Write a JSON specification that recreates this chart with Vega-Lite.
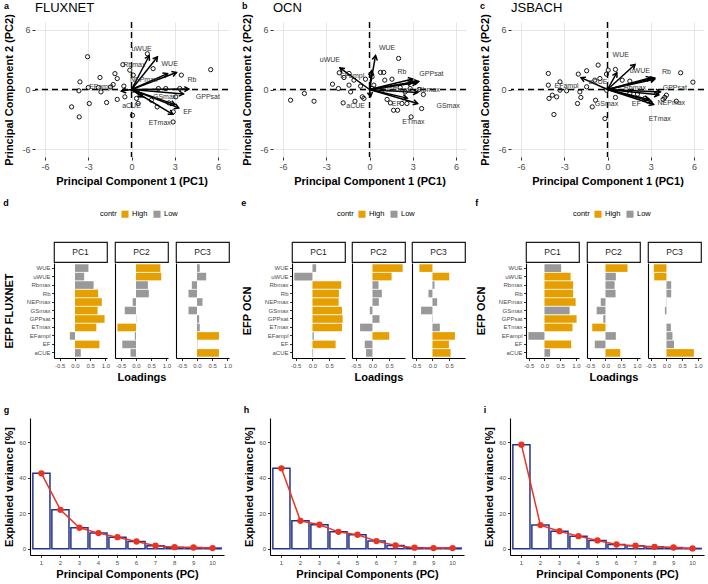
{
 "$schema": "https://vega.github.io/schema/vega-lite/v6.json",
 "padding": {"left": 1, "top": 1, "right": 0, "bottom": 0},
 "config": {
  "font": "Liberation Sans",
  "view": {"stroke": null},
  "axis": {"labelFlush": false, "labelOverlap": false, "labelColor": "#4d4d4d", "titleColor": "#000000", "titleFontWeight": "bold", "tickColor": "#333333", "domainColor": "#000000", "grid": false},
  "legend": {"titleColor": "#000000", "labelColor": "#000000"},
  "title": {"color": "#000000"}
 },
 "datasets": {
  "sitesF": [{"x":-3.05,"y":3.3},{"x":5.5,"y":2.0},{"x":-3.58,"y":0.77},{"x":-3.65,"y":-0.13},{"x":-3.0,"y":0.2},{"x":-4.16,"y":-1.75},{"x":-3.63,"y":-2.76},{"x":-2.93,"y":-1.41},{"x":-2.19,"y":1.21},{"x":-2.12,"y":-0.24},{"x":-1.73,"y":-1.31},{"x":-1.27,"y":0.5},{"x":-1.15,"y":1.6},{"x":-0.99,"y":1.1},{"x":-0.99,"y":-1.0},{"x":-0.6,"y":2.5},{"x":-0.12,"y":1.95},{"x":0.12,"y":1.45},{"x":-0.53,"y":0.34},{"x":-0.46,"y":-0.74},{"x":0.07,"y":-2.6},{"x":0.35,"y":-0.9},{"x":0.46,"y":-1.4},{"x":1.1,"y":3.6},{"x":1.5,"y":2.1},{"x":1.87,"y":0.1},{"x":2.38,"y":0.1},{"x":1.38,"y":-1.08},{"x":1.78,"y":-1.75},{"x":3.46,"y":1.45},{"x":3.35,"y":0.1},{"x":3.07,"y":-0.74},{"x":2.9,"y":-2.25},{"x":2.89,"y":-3.27},{"x":0.1,"y":-0.07},{"x":-1.45,"y":0.25},{"x":-2.3,"y":0.2},{"x":0.6,"y":-0.55},{"x":2.6,"y":-1.35}],
  "sitesO": [{"x":-5.48,"y":-1.08},{"x":-4.52,"y":-0.4},{"x":-3.85,"y":-1.18},{"x":-2.57,"y":0.54},{"x":-2.16,"y":0.1},{"x":-2.1,"y":1.68},{"x":-1.77,"y":1.21},{"x":-1.83,"y":-1.35},{"x":-1.42,"y":1.62},{"x":-1.08,"y":0.94},{"x":-1.42,"y":0.44},{"x":-1.31,"y":-0.24},{"x":-1.01,"y":-1.18},{"x":-0.62,"y":0.34},{"x":-0.5,"y":-0.74},{"x":-0.39,"y":-0.9},{"x":-0.28,"y":1.04},{"x":0.18,"y":1.28},{"x":0.3,"y":0.44},{"x":0.76,"y":1.72},{"x":0.99,"y":1.72},{"x":1.06,"y":0.94},{"x":1.56,"y":1.04},{"x":2.02,"y":3.13},{"x":1.22,"y":-1.0},{"x":1.45,"y":-1.35},{"x":1.67,"y":-2.09},{"x":1.95,"y":-2.09},{"x":2.25,"y":-1.41},{"x":2.6,"y":-1.41},{"x":2.89,"y":-2.76},{"x":3.44,"y":0.0},{"x":3.74,"y":-0.5},{"x":3.62,"y":-1.92},{"x":2.82,"y":0.1},{"x":2.48,"y":-0.24},{"x":2.13,"y":0.2},{"x":0.87,"y":-0.07},{"x":0.18,"y":0.1}],
  "sitesJ": [{"x":-4.11,"y":1.62},{"x":-4.11,"y":0.44},{"x":-4.06,"y":-0.9},{"x":-3.83,"y":-0.57},{"x":-3.53,"y":-0.74},{"x":-3.3,"y":0.77},{"x":-3.3,"y":-0.07},{"x":-2.84,"y":-0.13},{"x":-3.72,"y":-2.52},{"x":-2.03,"y":1.55},{"x":-1.45,"y":1.89},{"x":-1.92,"y":-0.24},{"x":-1.85,"y":-0.8},{"x":-2.08,"y":-1.41},{"x":-1.45,"y":0.27},{"x":-0.65,"y":2.46},{"x":-0.88,"y":0.94},{"x":-0.53,"y":1.11},{"x":-0.83,"y":-1.08},{"x":-1.06,"y":-1.75},{"x":-0.07,"y":1.55},{"x":0.05,"y":1.95},{"x":0.55,"y":2.02},{"x":-0.18,"y":-2.93},{"x":-0.07,"y":-0.07},{"x":0.55,"y":-0.8},{"x":1.02,"y":0.94},{"x":1.55,"y":0.84},{"x":1.55,"y":-0.4},{"x":2.08,"y":-0.47},{"x":2.59,"y":-0.9},{"x":3.4,"y":-0.4},{"x":3.97,"y":-0.8},{"x":3.86,"y":-1.0},{"x":4.09,"y":-0.57},{"x":5.08,"y":1.68},{"x":5.93,"y":0.74},{"x":4.78,"y":-1.18}],
  "arrowsF": [{"var":"WUE","x":1.8,"y":3.28},{"var":"uWUE","x":1.23,"y":3.4},{"var":"Rbmax","x":2.5,"y":1.6},{"var":"Rb","x":3.12,"y":1.72},{"var":"NEPmax","x":3.61,"y":-0.45},{"var":"GSmax","x":3.03,"y":-1.52},{"var":"GPPsat","x":3.98,"y":0.04},{"var":"ETmax","x":2.87,"y":-2.5},{"var":"EFampl","x":-0.7,"y":-0.16},{"var":"EF","x":3.28,"y":-1.85},{"var":"aCUE","x":0.78,"y":-0.74}],
  "labelsF": [{"var":"uWUE","x":0.7,"y":4.1},{"var":"WUE","x":2.65,"y":2.55},{"var":"Rbmax","x":0.2,"y":2.5},{"var":"Rb","x":4.2,"y":0.95},{"var":"NEPmax","x":0.85,"y":0.95},{"var":"GSmax","x":2.3,"y":-0.74},{"var":"GPPsat","x":5.3,"y":-0.74},{"var":"EF","x":3.9,"y":-2.25},{"var":"ETmax","x":1.96,"y":-3.37},{"var":"EFampl","x":-2.1,"y":0.27},{"var":"aCUE","x":0.0,"y":-1.68}],
  "arrowsO": [{"var":"WUE","x":0.42,"y":3.42},{"var":"uWUE","x":-2.05,"y":2.17},{"var":"Rbmax","x":3.27,"y":0.68},{"var":"Rb","x":3.0,"y":1.06},{"var":"NEPmax","x":2.96,"y":0.72},{"var":"GSmax","x":3.34,"y":-0.3},{"var":"GPPsat","x":3.42,"y":0.8},{"var":"ETmax","x":3.34,"y":-1.41},{"var":"EFampl","x":0.15,"y":1.9},{"var":"EF","x":2.62,"y":-0.87},{"var":"aCUE","x":0.08,"y":-0.72}],
  "labelsO": [{"var":"WUE","x":1.22,"y":4.14},{"var":"uWUE","x":-2.75,"y":2.96},{"var":"EFampl","x":-1.2,"y":1.35},{"var":"Rb","x":2.25,"y":1.78},{"var":"GPPsat","x":4.3,"y":1.55},{"var":"Rbmax","x":4.1,"y":0.0},{"var":"NEPmax","x":1.9,"y":-0.1},{"var":"GSmax","x":5.46,"y":-1.68},{"var":"ETmax","x":3.05,"y":-3.27},{"var":"EF","x":1.86,"y":-1.48},{"var":"aCUE","x":-0.96,"y":-1.68}],
  "arrowsJ": [{"var":"WUE","x":1.91,"y":2.52},{"var":"uWUE","x":2.99,"y":1.19},{"var":"Rbmax","x":3.28,"y":1.04},{"var":"Rb","x":3.28,"y":1.15},{"var":"NEPmax","x":3.56,"y":-0.54},{"var":"GSmax","x":2.88,"y":-1.0},{"var":"GPPsat","x":3.67,"y":-0.25},{"var":"ETmax","x":3.2,"y":-1.51},{"var":"EFampl","x":-1.84,"y":1.19},{"var":"EF","x":3.06,"y":-1.22},{"var":"aCUE","x":0.65,"y":1.69}],
  "labelsJ": [{"var":"WUE","x":0.92,"y":3.47},{"var":"uWUE","x":2.24,"y":1.85},{"var":"Rb","x":4.09,"y":1.78},{"var":"GPPsat","x":4.67,"y":0.2},{"var":"Rbmax","x":1.9,"y":0.2},{"var":"NEPmax","x":4.43,"y":-1.41},{"var":"EF","x":2.0,"y":-1.48},{"var":"GSmax","x":-0.07,"y":-1.48},{"var":"ETmax","x":3.63,"y":-2.93},{"var":"EFampl","x":-2.84,"y":0.34},{"var":"aCUE","x":-0.65,"y":0.77}],
  "loadF": [
   {"var":"WUE","pc":"PC1","value":0.44,"contr":"Low"},{"var":"uWUE","pc":"PC1","value":0.3,"contr":"Low"},{"var":"Rbmax","pc":"PC1","value":0.61,"contr":"Low"},{"var":"Rb","pc":"PC1","value":0.76,"contr":"High"},{"var":"NEPmax","pc":"PC1","value":0.88,"contr":"High"},{"var":"GSmax","pc":"PC1","value":0.74,"contr":"High"},{"var":"GPPsat","pc":"PC1","value":0.97,"contr":"High"},{"var":"ETmax","pc":"PC1","value":0.7,"contr":"High"},{"var":"EFampl","pc":"PC1","value":-0.17,"contr":"Low"},{"var":"EF","pc":"PC1","value":0.8,"contr":"High"},{"var":"aCUE","pc":"PC1","value":0.19,"contr":"Low"},
   {"var":"WUE","pc":"PC2","value":0.8,"contr":"High"},{"var":"uWUE","pc":"PC2","value":0.83,"contr":"High"},{"var":"Rbmax","pc":"PC2","value":0.39,"contr":"Low"},{"var":"Rb","pc":"PC2","value":0.42,"contr":"Low"},{"var":"NEPmax","pc":"PC2","value":-0.11,"contr":"Low"},{"var":"GSmax","pc":"PC2","value":-0.37,"contr":"Low"},{"var":"GPPsat","pc":"PC2","value":0.01,"contr":"Low"},{"var":"ETmax","pc":"PC2","value":-0.61,"contr":"High"},{"var":"EFampl","pc":"PC2","value":-0.04,"contr":"Low"},{"var":"EF","pc":"PC2","value":-0.45,"contr":"Low"},{"var":"aCUE","pc":"PC2","value":-0.18,"contr":"Low"},
   {"var":"WUE","pc":"PC3","value":0.09,"contr":"Low"},{"var":"uWUE","pc":"PC3","value":0.3,"contr":"Low"},{"var":"Rbmax","pc":"PC3","value":-0.17,"contr":"Low"},{"var":"Rb","pc":"PC3","value":-0.28,"contr":"Low"},{"var":"NEPmax","pc":"PC3","value":0.18,"contr":"Low"},{"var":"GSmax","pc":"PC3","value":-0.28,"contr":"Low"},{"var":"GPPsat","pc":"PC3","value":0.07,"contr":"Low"},{"var":"ETmax","pc":"PC3","value":0.09,"contr":"Low"},{"var":"EFampl","pc":"PC3","value":0.72,"contr":"High"},{"var":"EF","pc":"PC3","value":0.01,"contr":"Low"},{"var":"aCUE","pc":"PC3","value":0.72,"contr":"High"}
  ],
  "loadO": [
   {"var":"WUE","pc":"PC1","value":0.11,"contr":"Low"},{"var":"uWUE","pc":"PC1","value":-0.54,"contr":"Low"},{"var":"Rbmax","pc":"PC1","value":0.86,"contr":"High"},{"var":"Rb","pc":"PC1","value":0.79,"contr":"High"},{"var":"NEPmax","pc":"PC1","value":0.78,"contr":"High"},{"var":"GSmax","pc":"PC1","value":0.88,"contr":"High"},{"var":"GPPsat","pc":"PC1","value":0.9,"contr":"High"},{"var":"ETmax","pc":"PC1","value":0.88,"contr":"High"},{"var":"EFampl","pc":"PC1","value":0.04,"contr":"Low"},{"var":"EF","pc":"PC1","value":0.69,"contr":"High"},{"var":"aCUE","pc":"PC1","value":0.02,"contr":"Low"},
   {"var":"WUE","pc":"PC2","value":0.9,"contr":"High"},{"var":"uWUE","pc":"PC2","value":0.57,"contr":"High"},{"var":"Rbmax","pc":"PC2","value":0.18,"contr":"Low"},{"var":"Rb","pc":"PC2","value":0.28,"contr":"Low"},{"var":"NEPmax","pc":"PC2","value":0.19,"contr":"Low"},{"var":"GSmax","pc":"PC2","value":-0.08,"contr":"Low"},{"var":"GPPsat","pc":"PC2","value":0.21,"contr":"Low"},{"var":"ETmax","pc":"PC2","value":-0.37,"contr":"Low"},{"var":"EFampl","pc":"PC2","value":0.5,"contr":"High"},{"var":"EF","pc":"PC2","value":-0.23,"contr":"Low"},{"var":"aCUE","pc":"PC2","value":-0.19,"contr":"Low"},
   {"var":"WUE","pc":"PC3","value":-0.39,"contr":"High"},{"var":"uWUE","pc":"PC3","value":0.5,"contr":"High"},{"var":"Rbmax","pc":"PC3","value":0.06,"contr":"Low"},{"var":"Rb","pc":"PC3","value":-0.12,"contr":"Low"},{"var":"NEPmax","pc":"PC3","value":0.14,"contr":"Low"},{"var":"GSmax","pc":"PC3","value":-0.34,"contr":"Low"},{"var":"GPPsat","pc":"PC3","value":0.01,"contr":"Low"},{"var":"ETmax","pc":"PC3","value":0.22,"contr":"Low"},{"var":"EFampl","pc":"PC3","value":0.67,"contr":"High"},{"var":"EF","pc":"PC3","value":0.49,"contr":"High"},{"var":"aCUE","pc":"PC3","value":0.54,"contr":"High"}
  ],
  "loadJ": [
   {"var":"WUE","pc":"PC1","value":0.53,"contr":"Low"},{"var":"uWUE","pc":"PC1","value":0.83,"contr":"High"},{"var":"Rbmax","pc":"PC1","value":0.91,"contr":"High"},{"var":"Rb","pc":"PC1","value":0.91,"contr":"High"},{"var":"NEPmax","pc":"PC1","value":0.99,"contr":"High"},{"var":"GSmax","pc":"PC1","value":0.8,"contr":"Low"},{"var":"GPPsat","pc":"PC1","value":1.02,"contr":"High"},{"var":"ETmax","pc":"PC1","value":0.89,"contr":"High"},{"var":"EFampl","pc":"PC1","value":-0.51,"contr":"Low"},{"var":"EF","pc":"PC1","value":0.85,"contr":"High"},{"var":"aCUE","pc":"PC1","value":0.18,"contr":"Low"},
   {"var":"WUE","pc":"PC2","value":0.7,"contr":"High"},{"var":"uWUE","pc":"PC2","value":0.33,"contr":"Low"},{"var":"Rbmax","pc":"PC2","value":0.29,"contr":"Low"},{"var":"Rb","pc":"PC2","value":0.32,"contr":"Low"},{"var":"NEPmax","pc":"PC2","value":-0.15,"contr":"Low"},{"var":"GSmax","pc":"PC2","value":-0.28,"contr":"Low"},{"var":"GPPsat","pc":"PC2","value":-0.07,"contr":"Low"},{"var":"ETmax","pc":"PC2","value":-0.42,"contr":"High"},{"var":"EFampl","pc":"PC2","value":0.33,"contr":"Low"},{"var":"EF","pc":"PC2","value":-0.34,"contr":"Low"},{"var":"aCUE","pc":"PC2","value":0.47,"contr":"High"},
   {"var":"WUE","pc":"PC3","value":-0.4,"contr":"High"},{"var":"uWUE","pc":"PC3","value":-0.39,"contr":"High"},{"var":"Rbmax","pc":"PC3","value":0.15,"contr":"Low"},{"var":"Rb","pc":"PC3","value":0.15,"contr":"Low"},{"var":"NEPmax","pc":"PC3","value":-0.01,"contr":"Low"},{"var":"GSmax","pc":"PC3","value":-0.05,"contr":"Low"},{"var":"GPPsat","pc":"PC3","value":0.0,"contr":"Low"},{"var":"ETmax","pc":"PC3","value":0.14,"contr":"Low"},{"var":"EFampl","pc":"PC3","value":0.19,"contr":"Low"},{"var":"EF","pc":"PC3","value":0.24,"contr":"Low"},{"var":"aCUE","pc":"PC3","value":0.87,"contr":"High"}
  ],
  "screeF": [{"pc":1,"v":42.4},{"pc":2,"v":21.9},{"pc":3,"v":11.8},{"pc":4,"v":8.8},{"pc":5,"v":6.5},{"pc":6,"v":4.1},{"pc":7,"v":1.7},{"pc":8,"v":0.9},{"pc":9,"v":0.7},{"pc":10,"v":0.4}],
  "screeO": [{"pc":1,"v":45.2},{"pc":2,"v":15.7},{"pc":3,"v":13.5},{"pc":4,"v":9.5},{"pc":5,"v":7.9},{"pc":6,"v":4.3},{"pc":7,"v":1.9},{"pc":8,"v":0.6},{"pc":9,"v":0.4},{"pc":10,"v":0.4}],
  "screeJ": [{"pc":1,"v":58.5},{"pc":2,"v":13.3},{"pc":3,"v":9.9},{"pc":4,"v":7.1},{"pc":5,"v":4.7},{"pc":6,"v":2.4},{"pc":7,"v":1.7},{"pc":8,"v":1.1},{"pc":9,"v":0.7},{"pc":10,"v":0.2}]
 },
 "spacing": 24,
 "resolve": {"scale": {"color": "independent"}, "legend": {"color": "independent"}},
 "vconcat": [
  {
   "spacing": 13,
   "resolve": {"scale": {"color": "independent"}, "legend": {"color": "independent"}},
   "vconcat": [
    {
     "spacing": 1,
     "hconcat": [
      {"width": 1, "height": 1, "data": {"values": [{"s": 0}]}, "mark": {"type": "point", "opacity": 0, "size": 1}, "encoding": {}},
      {
       "spacing": 12,
       "hconcat": [
        {
         "title": {"text": "a", "anchor": "start", "frame": "bounds", "fontSize": 9, "fontWeight": "bold", "offset": -9},
         "vconcat": [{
          "width": 193, "height": 135,
          "title": {"text": "FLUXNET", "anchor": "start", "frame": "group", "fontSize": 13, "fontWeight": "normal", "offset": -1},
          "layer": [
           {"data": {"name": "sitesF"}, "mark": {"type": "point", "shape": "circle", "size": 18, "stroke": "black", "strokeWidth": 0.9, "filled": false, "opacity": 1},
            "encoding": {
             "x": {"field": "x", "type": "quantitative", "scale": {"domain": [-6.7, 6.7], "nice": false, "zero": false},
                   "axis": {"title": "Principal Component 1 (PC1)", "values": [-6,-4.5,-3,-1.5,0,1.5,3,4.5,6], "labelExpr": "datum.value % 3 === 0 ? '' + datum.value : ''", "grid": true, "gridColor": {"condition": {"test": "datum.value % 3 === 0", "value": "#e0e0e0"}, "value": "#f0f0f0"}, "gridWidth": 0.8, "tickColor": {"condition": {"test": "datum.value % 3 === 0", "value": "#333333"}, "value": "transparent"}, "tickSize": 3, "domain": false, "labelFontSize": 9, "labelPadding": 2, "titleFontSize": 11, "titlePadding": 4}},
             "y": {"field": "y", "type": "quantitative", "scale": {"domain": [-6.8, 6.8], "nice": false, "zero": false},
                   "axis": {"title": "Principal Component 2 (PC2)", "values": [-6,-4.5,-3,-1.5,0,1.5,3,4.5,6], "labelExpr": "datum.value % 3 === 0 ? '' + datum.value : ''", "grid": true, "gridColor": {"condition": {"test": "datum.value % 3 === 0", "value": "#e0e0e0"}, "value": "#f0f0f0"}, "gridWidth": 0.8, "tickColor": {"condition": {"test": "datum.value % 3 === 0", "value": "#333333"}, "value": "transparent"}, "tickSize": 3, "domain": false, "labelFontSize": 9, "labelPadding": 2, "titleFontSize": 11, "titlePadding": 7}}
            }},
           {"data": {"values": [{"v": 0}]}, "mark": {"type": "rule", "strokeDash": [6, 4], "strokeWidth": 1.4, "color": "black"}, "encoding": {"x": {"field": "v", "type": "quantitative"}}},
           {"data": {"values": [{"v": 0}]}, "mark": {"type": "rule", "strokeDash": [6, 4], "strokeWidth": 1.4, "color": "black"}, "encoding": {"y": {"field": "v", "type": "quantitative"}}},
           {"data": {"name": "arrowsF"}, "mark": {"type": "rule", "strokeWidth": 1.5, "color": "black"}, "encoding": {"x": {"field": "x", "type": "quantitative"}, "y": {"field": "y", "type": "quantitative"}, "x2": {"datum": 0}, "y2": {"datum": 0}}},
           {"data": {"name": "arrowsF"}, "transform": [{"calculate": "90 - atan2(datum.y * 9.93, datum.x * 14.4) * 180 / PI", "as": "ang"}], "mark": {"type": "point", "shape": "M-0.7,1.2L0,0L0.7,1.2", "filled": false, "stroke": "black", "strokeWidth": 1.5, "size": 55, "opacity": 1}, "encoding": {"x": {"field": "x", "type": "quantitative"}, "y": {"field": "y", "type": "quantitative"}, "angle": {"field": "ang", "type": "quantitative", "scale": {"domain": [-360, 360], "range": [-360, 360], "zero": false, "nice": false}, "legend": null}}},
           {"data": {"name": "labelsF"}, "mark": {"type": "text", "fontSize": 7, "fill": "#333333"}, "encoding": {"x": {"field": "x", "type": "quantitative"}, "y": {"field": "y", "type": "quantitative"}, "text": {"field": "var"}}}
          ]
         }]
        },
        {
         "title": {"text": "b", "anchor": "start", "frame": "bounds", "fontSize": 9, "fontWeight": "bold", "offset": -9},
         "vconcat": [{
          "width": 193, "height": 135,
          "title": {"text": "OCN", "anchor": "start", "frame": "group", "fontSize": 13, "fontWeight": "normal", "offset": -1},
          "layer": [
           {"data": {"name": "sitesO"}, "mark": {"type": "point", "shape": "circle", "size": 18, "stroke": "black", "strokeWidth": 0.9, "filled": false, "opacity": 1},
            "encoding": {
             "x": {"field": "x", "type": "quantitative", "scale": {"domain": [-6.7, 6.7], "nice": false, "zero": false},
                   "axis": {"title": "Principal Component 1 (PC1)", "values": [-6,-4.5,-3,-1.5,0,1.5,3,4.5,6], "labelExpr": "datum.value % 3 === 0 ? '' + datum.value : ''", "grid": true, "gridColor": {"condition": {"test": "datum.value % 3 === 0", "value": "#e0e0e0"}, "value": "#f0f0f0"}, "gridWidth": 0.8, "tickColor": {"condition": {"test": "datum.value % 3 === 0", "value": "#333333"}, "value": "transparent"}, "tickSize": 3, "domain": false, "labelFontSize": 9, "labelPadding": 2, "titleFontSize": 11, "titlePadding": 4}},
             "y": {"field": "y", "type": "quantitative", "scale": {"domain": [-6.8, 6.8], "nice": false, "zero": false},
                   "axis": {"title": "Principal Component 2 (PC2)", "values": [-6,-4.5,-3,-1.5,0,1.5,3,4.5,6], "labelExpr": "datum.value % 3 === 0 ? '' + datum.value : ''", "grid": true, "gridColor": {"condition": {"test": "datum.value % 3 === 0", "value": "#e0e0e0"}, "value": "#f0f0f0"}, "gridWidth": 0.8, "tickColor": {"condition": {"test": "datum.value % 3 === 0", "value": "#333333"}, "value": "transparent"}, "tickSize": 3, "domain": false, "labelFontSize": 9, "labelPadding": 2, "titleFontSize": 11, "titlePadding": 7}}
            }},
           {"data": {"values": [{"v": 0}]}, "mark": {"type": "rule", "strokeDash": [6, 4], "strokeWidth": 1.4, "color": "black"}, "encoding": {"x": {"field": "v", "type": "quantitative"}}},
           {"data": {"values": [{"v": 0}]}, "mark": {"type": "rule", "strokeDash": [6, 4], "strokeWidth": 1.4, "color": "black"}, "encoding": {"y": {"field": "v", "type": "quantitative"}}},
           {"data": {"name": "arrowsO"}, "mark": {"type": "rule", "strokeWidth": 1.5, "color": "black"}, "encoding": {"x": {"field": "x", "type": "quantitative"}, "y": {"field": "y", "type": "quantitative"}, "x2": {"datum": 0}, "y2": {"datum": 0}}},
           {"data": {"name": "arrowsO"}, "transform": [{"calculate": "90 - atan2(datum.y * 9.93, datum.x * 14.4) * 180 / PI", "as": "ang"}], "mark": {"type": "point", "shape": "M-0.7,1.2L0,0L0.7,1.2", "filled": false, "stroke": "black", "strokeWidth": 1.5, "size": 55, "opacity": 1}, "encoding": {"x": {"field": "x", "type": "quantitative"}, "y": {"field": "y", "type": "quantitative"}, "angle": {"field": "ang", "type": "quantitative", "scale": {"domain": [-360, 360], "range": [-360, 360], "zero": false, "nice": false}, "legend": null}}},
           {"data": {"name": "labelsO"}, "mark": {"type": "text", "fontSize": 7, "fill": "#333333"}, "encoding": {"x": {"field": "x", "type": "quantitative"}, "y": {"field": "y", "type": "quantitative"}, "text": {"field": "var"}}}
          ]
         }]
        },
        {
         "title": {"text": "c", "anchor": "start", "frame": "bounds", "fontSize": 9, "fontWeight": "bold", "offset": -9},
         "vconcat": [{
          "width": 193, "height": 135,
          "title": {"text": "JSBACH", "anchor": "start", "frame": "group", "fontSize": 13, "fontWeight": "normal", "offset": -1},
          "layer": [
           {"data": {"name": "sitesJ"}, "mark": {"type": "point", "shape": "circle", "size": 18, "stroke": "black", "strokeWidth": 0.9, "filled": false, "opacity": 1},
            "encoding": {
             "x": {"field": "x", "type": "quantitative", "scale": {"domain": [-6.7, 6.7], "nice": false, "zero": false},
                   "axis": {"title": "Principal Component 1 (PC1)", "values": [-6,-4.5,-3,-1.5,0,1.5,3,4.5,6], "labelExpr": "datum.value % 3 === 0 ? '' + datum.value : ''", "grid": true, "gridColor": {"condition": {"test": "datum.value % 3 === 0", "value": "#e0e0e0"}, "value": "#f0f0f0"}, "gridWidth": 0.8, "tickColor": {"condition": {"test": "datum.value % 3 === 0", "value": "#333333"}, "value": "transparent"}, "tickSize": 3, "domain": false, "labelFontSize": 9, "labelPadding": 2, "titleFontSize": 11, "titlePadding": 4}},
             "y": {"field": "y", "type": "quantitative", "scale": {"domain": [-6.8, 6.8], "nice": false, "zero": false},
                   "axis": {"title": "Principal Component 2 (PC2)", "values": [-6,-4.5,-3,-1.5,0,1.5,3,4.5,6], "labelExpr": "datum.value % 3 === 0 ? '' + datum.value : ''", "grid": true, "gridColor": {"condition": {"test": "datum.value % 3 === 0", "value": "#e0e0e0"}, "value": "#f0f0f0"}, "gridWidth": 0.8, "tickColor": {"condition": {"test": "datum.value % 3 === 0", "value": "#333333"}, "value": "transparent"}, "tickSize": 3, "domain": false, "labelFontSize": 9, "labelPadding": 2, "titleFontSize": 11, "titlePadding": 7}}
            }},
           {"data": {"values": [{"v": 0}]}, "mark": {"type": "rule", "strokeDash": [6, 4], "strokeWidth": 1.4, "color": "black"}, "encoding": {"x": {"field": "v", "type": "quantitative"}}},
           {"data": {"values": [{"v": 0}]}, "mark": {"type": "rule", "strokeDash": [6, 4], "strokeWidth": 1.4, "color": "black"}, "encoding": {"y": {"field": "v", "type": "quantitative"}}},
           {"data": {"name": "arrowsJ"}, "mark": {"type": "rule", "strokeWidth": 1.5, "color": "black"}, "encoding": {"x": {"field": "x", "type": "quantitative"}, "y": {"field": "y", "type": "quantitative"}, "x2": {"datum": 0}, "y2": {"datum": 0}}},
           {"data": {"name": "arrowsJ"}, "transform": [{"calculate": "90 - atan2(datum.y * 9.93, datum.x * 14.4) * 180 / PI", "as": "ang"}], "mark": {"type": "point", "shape": "M-0.7,1.2L0,0L0.7,1.2", "filled": false, "stroke": "black", "strokeWidth": 1.5, "size": 55, "opacity": 1}, "encoding": {"x": {"field": "x", "type": "quantitative"}, "y": {"field": "y", "type": "quantitative"}, "angle": {"field": "ang", "type": "quantitative", "scale": {"domain": [-360, 360], "range": [-360, 360], "zero": false, "nice": false}, "legend": null}}},
           {"data": {"name": "labelsJ"}, "mark": {"type": "text", "fontSize": 7, "fill": "#333333"}, "encoding": {"x": {"field": "x", "type": "quantitative"}, "y": {"field": "y", "type": "quantitative"}, "text": {"field": "var"}}}
          ]
         }]
        }
       ]
      }
     ]
    },
    {
     "spacing": 1,
     "resolve": {"scale": {"color": "independent"}, "legend": {"color": "independent"}},
     "hconcat": [
      {"width": 1, "height": 1, "data": {"values": [{"s": 0}]}, "mark": {"type": "point", "opacity": 0, "size": 1}, "encoding": {}},
      {
       "spacing": 9,
       "resolve": {"scale": {"color": "independent"}, "legend": {"color": "independent"}},
       "hconcat": [
        {
         "title": {"text": "d", "anchor": "start", "frame": "bounds", "fontSize": 9, "fontWeight": "bold", "offset": 2},
         "spacing": 4,
         "hconcat": [
          {"spacing": 0, "vconcat": [
           {"width": 53, "height": 20, "view": {"stroke": "#1a1a1a", "strokeWidth": 1.2, "fill": "white"}, "data": {"values": [{"pc": "PC1"}]}, "mark": {"type": "text", "fontSize": 8.5, "color": "#1a1a1a"}, "encoding": {"text": {"field": "pc"}}},
           {"width": 53, "height": 95, "data": {"name": "loadF"}, "transform": [{"filter": "datum.pc === 'PC1'"}], "mark": {"type": "bar"},
            "encoding": {
             "y": {"field": "var", "type": "nominal", "sort": ["WUE","uWUE","Rbmax","Rb","NEPmax","GSmax","GPPsat","ETmax","EFampl","EF","aCUE"], "scale": {"paddingInner": 0.1, "paddingOuter": 0.15}, "axis": {"title": "EFP FLUXNET", "titleFontSize": 11, "titlePadding": 12, "labelFontSize": 6, "labelPadding": 1.5, "tickSize": 2.5, "domainWidth": 1.1}},
             "x": {"field": "value", "type": "quantitative", "scale": {"domain": [-0.69, 1.05], "nice": false, "zero": false}, "axis": {"title": null, "values": [-0.5, 0, 0.5, 1], "labelExpr": "replace(format(datum.value, '.1f'), '−', '-')", "labelFontSize": 6, "labelPadding": 1.5, "tickSize": 2.5, "domainWidth": 1.1}},
             "color": {"condition": {"test": "datum.contr === 'High'", "value": "#E69F00"}, "value": "#999999"}
            }}
          ]},
          {"spacing": 0, "vconcat": [
           {"width": 53, "height": 20, "view": {"stroke": "#1a1a1a", "strokeWidth": 1.2, "fill": "white"},
            "layer": [
             {"data": {"values": [{"pc": "PC2"}]}, "mark": {"type": "text", "fontSize": 8.5, "color": "#1a1a1a"}, "encoding": {"text": {"field": "pc"}}},
             {"data": {"values": [{"contr": "High"}, {"contr": "Low"}]}, "mark": {"type": "square", "opacity": 0}, "encoding": {"color": {"field": "contr", "type": "nominal", "scale": {"domain": ["High", "Low"], "range": ["#E69F00", "#999999"]}, "legend": {"orient": "none", "legendX": 46, "legendY": -32, "direction": "horizontal", "title": "contr", "titleOrient": "left", "symbolType": "square", "symbolSize": 50, "symbolOpacity": 1, "symbolStrokeWidth": 0, "labelFontSize": 7.5, "titleFontSize": 7.5, "titleFontWeight": "normal", "titleColor": "#000000", "labelColor": "#000000", "columnPadding": 5, "labelOffset": 3, "titlePadding": 4}}}}
            ]},
           {"width": 53, "height": 95, "data": {"name": "loadF"}, "transform": [{"filter": "datum.pc === 'PC2'"}], "mark": {"type": "bar"},
            "encoding": {
             "y": {"field": "var", "type": "nominal", "sort": ["WUE","uWUE","Rbmax","Rb","NEPmax","GSmax","GPPsat","ETmax","EFampl","EF","aCUE"], "scale": {"paddingInner": 0.1, "paddingOuter": 0.15}, "axis": {"title": null, "labels": false, "ticks": false, "domainWidth": 1.1}},
             "x": {"field": "value", "type": "quantitative", "scale": {"domain": [-0.69, 1.05], "nice": false, "zero": false}, "axis": {"title": "Loadings", "titleFontSize": 11, "titlePadding": 3, "values": [-0.5, 0, 0.5, 1], "labelExpr": "replace(format(datum.value, '.1f'), '−', '-')", "labelFontSize": 6, "labelPadding": 1.5, "tickSize": 2.5, "domainWidth": 1.1}},
             "color": {"condition": {"test": "datum.contr === 'High'", "value": "#E69F00"}, "value": "#999999"}
            }}
          ]},
          {"spacing": 0, "vconcat": [
           {"width": 53, "height": 20, "view": {"stroke": "#1a1a1a", "strokeWidth": 1.2, "fill": "white"}, "data": {"values": [{"pc": "PC3"}]}, "mark": {"type": "text", "fontSize": 8.5, "color": "#1a1a1a"}, "encoding": {"text": {"field": "pc"}}},
           {"width": 53, "height": 95, "data": {"name": "loadF"}, "transform": [{"filter": "datum.pc === 'PC3'"}], "mark": {"type": "bar"},
            "encoding": {
             "y": {"field": "var", "type": "nominal", "sort": ["WUE","uWUE","Rbmax","Rb","NEPmax","GSmax","GPPsat","ETmax","EFampl","EF","aCUE"], "scale": {"paddingInner": 0.1, "paddingOuter": 0.15}, "axis": {"title": null, "labels": false, "ticks": false, "domainWidth": 1.1}},
             "x": {"field": "value", "type": "quantitative", "scale": {"domain": [-0.69, 1.05], "nice": false, "zero": false}, "axis": {"title": null, "values": [-0.5, 0, 0.5, 1], "labelExpr": "replace(format(datum.value, '.1f'), '−', '-')", "labelFontSize": 6, "labelPadding": 1.5, "tickSize": 2.5, "domainWidth": 1.1}},
             "color": {"condition": {"test": "datum.contr === 'High'", "value": "#E69F00"}, "value": "#999999"}
            }}
          ]}
         ]
        },
        {
         "title": {"text": "e", "anchor": "start", "frame": "bounds", "fontSize": 9, "fontWeight": "bold", "offset": 2},
         "spacing": 4,
         "hconcat": [
          {"spacing": 0, "vconcat": [
           {"width": 53, "height": 20, "view": {"stroke": "#1a1a1a", "strokeWidth": 1.2, "fill": "white"}, "data": {"values": [{"pc": "PC1"}]}, "mark": {"type": "text", "fontSize": 8.5, "color": "#1a1a1a"}, "encoding": {"text": {"field": "pc"}}},
           {"width": 53, "height": 95, "data": {"name": "loadO"}, "transform": [{"filter": "datum.pc === 'PC1'"}], "mark": {"type": "bar"},
            "encoding": {
             "y": {"field": "var", "type": "nominal", "sort": ["WUE","uWUE","Rbmax","Rb","NEPmax","GSmax","GPPsat","ETmax","EFampl","EF","aCUE"], "scale": {"paddingInner": 0.1, "paddingOuter": 0.15}, "axis": {"title": "EFP OCN", "titleFontSize": 11, "titlePadding": 12, "labelFontSize": 6, "labelPadding": 1.5, "tickSize": 2.5, "domainWidth": 1.1}},
             "x": {"field": "value", "type": "quantitative", "scale": {"domain": [-0.61, 0.97], "nice": false, "zero": false}, "axis": {"title": null, "values": [-0.5, 0, 0.5], "labelExpr": "replace(format(datum.value, '.1f'), '−', '-')", "labelFontSize": 6, "labelPadding": 1.5, "tickSize": 2.5, "domainWidth": 1.1}},
             "color": {"condition": {"test": "datum.contr === 'High'", "value": "#E69F00"}, "value": "#999999"}
            }}
          ]},
          {"spacing": 0, "vconcat": [
           {"width": 53, "height": 20, "view": {"stroke": "#1a1a1a", "strokeWidth": 1.2, "fill": "white"},
            "layer": [
             {"data": {"values": [{"pc": "PC2"}]}, "mark": {"type": "text", "fontSize": 8.5, "color": "#1a1a1a"}, "encoding": {"text": {"field": "pc"}}},
             {"data": {"values": [{"contr": "High"}, {"contr": "Low"}]}, "mark": {"type": "square", "opacity": 0}, "encoding": {"color": {"field": "contr", "type": "nominal", "scale": {"domain": ["High", "Low"], "range": ["#E69F00", "#999999"]}, "legend": {"orient": "none", "legendX": 45, "legendY": -32, "direction": "horizontal", "title": "contr", "titleOrient": "left", "symbolType": "square", "symbolSize": 50, "symbolOpacity": 1, "symbolStrokeWidth": 0, "labelFontSize": 7.5, "titleFontSize": 7.5, "titleFontWeight": "normal", "titleColor": "#000000", "labelColor": "#000000", "columnPadding": 5, "labelOffset": 3, "titlePadding": 4}}}}
            ]},
           {"width": 53, "height": 95, "data": {"name": "loadO"}, "transform": [{"filter": "datum.pc === 'PC2'"}], "mark": {"type": "bar"},
            "encoding": {
             "y": {"field": "var", "type": "nominal", "sort": ["WUE","uWUE","Rbmax","Rb","NEPmax","GSmax","GPPsat","ETmax","EFampl","EF","aCUE"], "scale": {"paddingInner": 0.1, "paddingOuter": 0.15}, "axis": {"title": null, "labels": false, "ticks": false, "domainWidth": 1.1}},
             "x": {"field": "value", "type": "quantitative", "scale": {"domain": [-0.61, 0.97], "nice": false, "zero": false}, "axis": {"title": "Loadings", "titleFontSize": 11, "titlePadding": 3, "values": [-0.5, 0, 0.5], "labelExpr": "replace(format(datum.value, '.1f'), '−', '-')", "labelFontSize": 6, "labelPadding": 1.5, "tickSize": 2.5, "domainWidth": 1.1}},
             "color": {"condition": {"test": "datum.contr === 'High'", "value": "#E69F00"}, "value": "#999999"}
            }}
          ]},
          {"spacing": 0, "vconcat": [
           {"width": 53, "height": 20, "view": {"stroke": "#1a1a1a", "strokeWidth": 1.2, "fill": "white"}, "data": {"values": [{"pc": "PC3"}]}, "mark": {"type": "text", "fontSize": 8.5, "color": "#1a1a1a"}, "encoding": {"text": {"field": "pc"}}},
           {"width": 53, "height": 95, "data": {"name": "loadO"}, "transform": [{"filter": "datum.pc === 'PC3'"}], "mark": {"type": "bar"},
            "encoding": {
             "y": {"field": "var", "type": "nominal", "sort": ["WUE","uWUE","Rbmax","Rb","NEPmax","GSmax","GPPsat","ETmax","EFampl","EF","aCUE"], "scale": {"paddingInner": 0.1, "paddingOuter": 0.15}, "axis": {"title": null, "labels": false, "ticks": false, "domainWidth": 1.1}},
             "x": {"field": "value", "type": "quantitative", "scale": {"domain": [-0.61, 0.97], "nice": false, "zero": false}, "axis": {"title": null, "values": [-0.5, 0, 0.5], "labelExpr": "replace(format(datum.value, '.1f'), '−', '-')", "labelFontSize": 6, "labelPadding": 1.5, "tickSize": 2.5, "domainWidth": 1.1}},
             "color": {"condition": {"test": "datum.contr === 'High'", "value": "#E69F00"}, "value": "#999999"}
            }}
          ]}
         ]
        },
        {
         "title": {"text": "f", "anchor": "start", "frame": "bounds", "fontSize": 9, "fontWeight": "bold", "offset": 2},
         "spacing": 3,
         "hconcat": [
          {"spacing": 0, "vconcat": [
           {"width": 53, "height": 20, "view": {"stroke": "#1a1a1a", "strokeWidth": 1.2, "fill": "white"}, "data": {"values": [{"pc": "PC1"}]}, "mark": {"type": "text", "fontSize": 8.5, "color": "#1a1a1a"}, "encoding": {"text": {"field": "pc"}}},
           {"width": 53, "height": 95, "data": {"name": "loadJ"}, "transform": [{"filter": "datum.pc === 'PC1'"}], "mark": {"type": "bar"},
            "encoding": {
             "y": {"field": "var", "type": "nominal", "sort": ["WUE","uWUE","Rbmax","Rb","NEPmax","GSmax","GPPsat","ETmax","EFampl","EF","aCUE"], "scale": {"paddingInner": 0.1, "paddingOuter": 0.15}, "axis": {"title": "EFP OCN", "titleFontSize": 11, "titlePadding": 12, "labelFontSize": 6, "labelPadding": 1.5, "tickSize": 2.5, "domainWidth": 1.1}},
             "x": {"field": "value", "type": "quantitative", "scale": {"domain": [-0.587, 1.097], "nice": false, "zero": false}, "axis": {"title": null, "values": [-0.5, 0, 0.5, 1], "labelExpr": "replace(format(datum.value, '.1f'), '−', '-')", "labelFontSize": 6, "labelPadding": 1.5, "tickSize": 2.5, "domainWidth": 1.1}},
             "color": {"condition": {"test": "datum.contr === 'High'", "value": "#E69F00"}, "value": "#999999"}
            }}
          ]},
          {"spacing": 0, "vconcat": [
           {"width": 53, "height": 20, "view": {"stroke": "#1a1a1a", "strokeWidth": 1.2, "fill": "white"},
            "layer": [
             {"data": {"values": [{"pc": "PC2"}]}, "mark": {"type": "text", "fontSize": 8.5, "color": "#1a1a1a"}, "encoding": {"text": {"field": "pc"}}},
             {"data": {"values": [{"contr": "High"}, {"contr": "Low"}]}, "mark": {"type": "square", "opacity": 0}, "encoding": {"color": {"field": "contr", "type": "nominal", "scale": {"domain": ["High", "Low"], "range": ["#E69F00", "#999999"]}, "legend": {"orient": "none", "legendX": 47, "legendY": -32, "direction": "horizontal", "title": "contr", "titleOrient": "left", "symbolType": "square", "symbolSize": 50, "symbolOpacity": 1, "symbolStrokeWidth": 0, "labelFontSize": 7.5, "titleFontSize": 7.5, "titleFontWeight": "normal", "titleColor": "#000000", "labelColor": "#000000", "columnPadding": 5, "labelOffset": 3, "titlePadding": 4}}}}
            ]},
           {"width": 53, "height": 95, "data": {"name": "loadJ"}, "transform": [{"filter": "datum.pc === 'PC2'"}], "mark": {"type": "bar"},
            "encoding": {
             "y": {"field": "var", "type": "nominal", "sort": ["WUE","uWUE","Rbmax","Rb","NEPmax","GSmax","GPPsat","ETmax","EFampl","EF","aCUE"], "scale": {"paddingInner": 0.1, "paddingOuter": 0.15}, "axis": {"title": null, "labels": false, "ticks": false, "domainWidth": 1.1}},
             "x": {"field": "value", "type": "quantitative", "scale": {"domain": [-0.587, 1.097], "nice": false, "zero": false}, "axis": {"title": "Loadings", "titleFontSize": 11, "titlePadding": 3, "values": [-0.5, 0, 0.5, 1], "labelExpr": "replace(format(datum.value, '.1f'), '−', '-')", "labelFontSize": 6, "labelPadding": 1.5, "tickSize": 2.5, "domainWidth": 1.1}},
             "color": {"condition": {"test": "datum.contr === 'High'", "value": "#E69F00"}, "value": "#999999"}
            }}
          ]},
          {"spacing": 0, "vconcat": [
           {"width": 53, "height": 20, "view": {"stroke": "#1a1a1a", "strokeWidth": 1.2, "fill": "white"}, "data": {"values": [{"pc": "PC3"}]}, "mark": {"type": "text", "fontSize": 8.5, "color": "#1a1a1a"}, "encoding": {"text": {"field": "pc"}}},
           {"width": 53, "height": 95, "data": {"name": "loadJ"}, "transform": [{"filter": "datum.pc === 'PC3'"}], "mark": {"type": "bar"},
            "encoding": {
             "y": {"field": "var", "type": "nominal", "sort": ["WUE","uWUE","Rbmax","Rb","NEPmax","GSmax","GPPsat","ETmax","EFampl","EF","aCUE"], "scale": {"paddingInner": 0.1, "paddingOuter": 0.15}, "axis": {"title": null, "labels": false, "ticks": false, "domainWidth": 1.1}},
             "x": {"field": "value", "type": "quantitative", "scale": {"domain": [-0.587, 1.097], "nice": false, "zero": false}, "axis": {"title": null, "values": [-0.5, 0, 0.5, 1], "labelExpr": "replace(format(datum.value, '.1f'), '−', '-')", "labelFontSize": 6, "labelPadding": 1.5, "tickSize": 2.5, "domainWidth": 1.1}},
             "color": {"condition": {"test": "datum.contr === 'High'", "value": "#E69F00"}, "value": "#999999"}
            }}
          ]}
         ]
        }
       ]
      }
     ]
    }
   ]
  },
  {
   "spacing": 1,
   "hconcat": [
    {"width": 1, "height": 1, "data": {"values": [{"s": 0}]}, "mark": {"type": "point", "opacity": 0, "size": 1}, "encoding": {}},
    {
     "spacing": 19,
     "hconcat": [
      {
       "title": {"text": "g", "anchor": "start", "frame": "bounds", "fontSize": 9, "fontWeight": "bold", "offset": 3},
       "width": 194, "height": 137,
       "data": {"name": "screeF"},
       "layer": [
        {"mark": {"type": "bar", "fill": "white", "stroke": "#27348b", "strokeWidth": 1.5},
         "encoding": {
          "x": {"field": "pc", "type": "ordinal", "scale": {"paddingInner": 0.1, "paddingOuter": 0.15}, "axis": {"title": "Principal Components (PC)", "labelAngle": 0, "labelFontSize": 6, "labelPadding": 2, "tickSize": 2.5, "domainWidth": 1.1, "titleFontSize": 11, "titlePadding": 3}},
          "y": {"field": "v", "type": "quantitative", "scale": {"domain": [-3.5, 73.5], "nice": false, "zero": false}, "axis": {"title": "Explained variance [%]", "values": [0, 20, 40, 60], "labelFontSize": 6, "labelPadding": 2, "tickSize": 2.5, "domainWidth": 1.1, "titleFontSize": 11, "titlePadding": 4}}
         }},
        {"mark": {"type": "line", "color": "#ea3323", "strokeWidth": 1.5}, "encoding": {"x": {"field": "pc", "type": "ordinal"}, "y": {"field": "v", "type": "quantitative"}}},
        {"mark": {"type": "circle", "color": "#ea3323", "size": 40, "opacity": 1}, "encoding": {"x": {"field": "pc", "type": "ordinal"}, "y": {"field": "v", "type": "quantitative"}}}
       ]
      },
      {
       "title": {"text": "h", "anchor": "start", "frame": "bounds", "fontSize": 9, "fontWeight": "bold", "offset": 3},
       "width": 194, "height": 137,
       "data": {"name": "screeO"},
       "layer": [
        {"mark": {"type": "bar", "fill": "white", "stroke": "#27348b", "strokeWidth": 1.5},
         "encoding": {
          "x": {"field": "pc", "type": "ordinal", "scale": {"paddingInner": 0.1, "paddingOuter": 0.15}, "axis": {"title": "Principal Components (PC)", "labelAngle": 0, "labelFontSize": 6, "labelPadding": 2, "tickSize": 2.5, "domainWidth": 1.1, "titleFontSize": 11, "titlePadding": 3}},
          "y": {"field": "v", "type": "quantitative", "scale": {"domain": [-3.5, 73.5], "nice": false, "zero": false}, "axis": {"title": "Explained variance [%]", "values": [0, 20, 40, 60], "labelFontSize": 6, "labelPadding": 2, "tickSize": 2.5, "domainWidth": 1.1, "titleFontSize": 11, "titlePadding": 4}}
         }},
        {"mark": {"type": "line", "color": "#ea3323", "strokeWidth": 1.5}, "encoding": {"x": {"field": "pc", "type": "ordinal"}, "y": {"field": "v", "type": "quantitative"}}},
        {"mark": {"type": "circle", "color": "#ea3323", "size": 40, "opacity": 1}, "encoding": {"x": {"field": "pc", "type": "ordinal"}, "y": {"field": "v", "type": "quantitative"}}}
       ]
      },
      {
       "title": {"text": "i", "anchor": "start", "frame": "bounds", "fontSize": 9, "fontWeight": "bold", "offset": 3},
       "width": 194, "height": 137,
       "data": {"name": "screeJ"},
       "layer": [
        {"mark": {"type": "bar", "fill": "white", "stroke": "#27348b", "strokeWidth": 1.5},
         "encoding": {
          "x": {"field": "pc", "type": "ordinal", "scale": {"paddingInner": 0.1, "paddingOuter": 0.15}, "axis": {"title": "Principal Components (PC)", "labelAngle": 0, "labelFontSize": 6, "labelPadding": 2, "tickSize": 2.5, "domainWidth": 1.1, "titleFontSize": 11, "titlePadding": 3}},
          "y": {"field": "v", "type": "quantitative", "scale": {"domain": [-3.5, 73.5], "nice": false, "zero": false}, "axis": {"title": "Explained variance [%]", "values": [0, 20, 40, 60], "labelFontSize": 6, "labelPadding": 2, "tickSize": 2.5, "domainWidth": 1.1, "titleFontSize": 11, "titlePadding": 4}}
         }},
        {"mark": {"type": "line", "color": "#ea3323", "strokeWidth": 1.5}, "encoding": {"x": {"field": "pc", "type": "ordinal"}, "y": {"field": "v", "type": "quantitative"}}},
        {"mark": {"type": "circle", "color": "#ea3323", "size": 40, "opacity": 1}, "encoding": {"x": {"field": "pc", "type": "ordinal"}, "y": {"field": "v", "type": "quantitative"}}}
       ]
      }
     ]
    }
   ]
  }
 ]
}
